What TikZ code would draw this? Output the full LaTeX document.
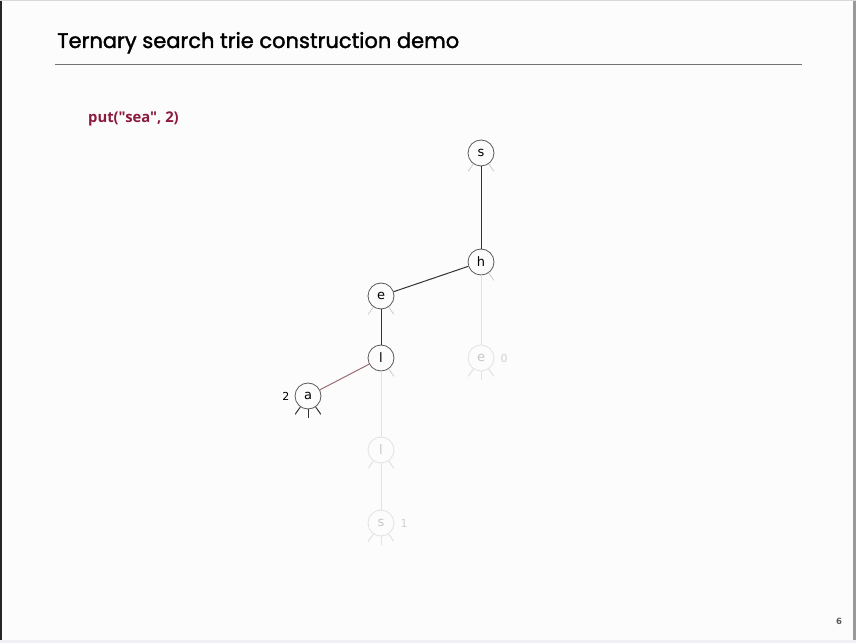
\documentclass[tikz,border=0pt]{standalone}
\usepackage{fontspec}
\setmainfont{Liberation Serif}
\newfontfamily\titlefont[FakeBold=1.6]{Poppins}
\newfontfamily\codefont{Open Sans}
\newfontfamily\keyfont{DejaVu Sans}
\usetikzlibrary{positioning}

\definecolor{linkdark}{HTML}{333333}
\definecolor{linkfade}{HTML}{E2E2E2}
\definecolor{nullgray}{HTML}{C8C8C8}
\definecolor{putred}{HTML}{8B1A3C}
\definecolor{newlink}{HTML}{9C6B73}

\newcommand{\nulllinks}[3]{%
  \foreach \ang in {#2}
    \draw[#3] (#1.\ang) -- ++(\ang:9);
}

\begin{document}
\begin{tikzpicture}[x=1pt,y=1pt]
 \tikzset{
 	tst node/.style={
 		circle, draw=black!65, line width=0.8pt,
 		minimum size=26pt, inner sep=0pt,
 		font=\keyfont\fontsize{13}{13}\selectfont
 	},
 	faded node/.style={
 		tst node, draw=linkfade, text=black!22
 	},
 	val/.style={font=\keyfont\fontsize{11}{11}\selectfont, inner sep=1pt},
 	link/.style={draw=linkdark, line width=1pt},
 	fade link/.style={draw=linkfade, line width=1pt},
 	null link/.style={draw=nullgray, line width=0.7pt}
 }
 % slide frame
 \useasboundingbox (0,0) rectangle (856,643);
 \fill[white!99!black] (0,0) rectangle (856,643);
 \fill[black!85] (0,0) rectangle (2,643);
 \fill[black!40] (853,0) rectangle (856,643);
 \draw[black!15] (0,642.5) -- (856,642.5);
 \fill[blue!30!black!6] (0,0) rectangle (856,3);
 % title
 \node[anchor=base west, inner sep=0pt, font=\titlefont\fontsize{21}{21}\selectfont]
   (title) at (57,595) {Ternary search trie construction demo};
 \draw[black!55, line width=0.8pt] (55,579) -- (802,579);
 \node[anchor=base west, inner sep=0pt, text=putred,
   font=\codefont\bfseries\fontsize{14.8}{14.8}\selectfont]
   (cmd) at (88,520) {put("sea", 2)};
 \node[font=\keyfont\bfseries\fontsize{8.5}{8.5}\selectfont, text=black!65] (page) at (839,22) {6};
 % faded part of the trie
 \node[faded node] (fe) at (481,285) {e};
 \node[faded node] (fl) at (381,193) {l};
 \node[faded node] (fs) at (381,120) {s};
 \node[val, text=black!18, right=5pt of fe] (vfe) {0};
 \node[val, text=black!18, right=5pt of fs] (vfs) {1};
 % path to the new node
 \node[tst node] (s) at (481,490) {s};
 \node[tst node] (h) at (481,381) {h};
 \node[tst node] (e) at (381,347) {e};
 \node[tst node] (l) at (381,285) {l};
 \node[tst node] (a) at (308,247) {a};
 \node[val, left=4pt of a] (va) {2};
 % links
 \draw[link] (s) -- (h);
 \draw[link] (h) -- (e);
 \draw[link] (e) -- (l);
 \draw[newlink, line width=1pt] (l) -- (a);
 \draw[fade link] (h) -- (fe);
 \draw[fade link] (l) -- (fl);
 \draw[fade link] (fl) -- (fs);
 % null links
 \nulllinks{s}{-125,-55}{null link}
 \nulllinks{h}{-55}{null link}
 \nulllinks{e}{-125,-55}{null link}
 \nulllinks{l}{-55}{null link}
 \nulllinks{a}{-125,-90,-55}{draw=linkdark, line width=1pt}
 \nulllinks{fe}{-125,-90,-55}{fade link}
 \nulllinks{fl}{-125,-55}{fade link}
 \nulllinks{fs}{-125,-90,-55}{fade link}
\end{tikzpicture}
\end{document}
